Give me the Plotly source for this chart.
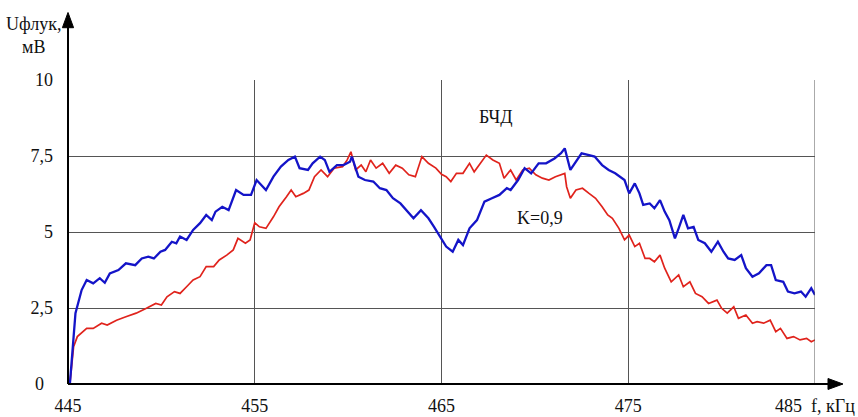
import plotly.graph_objects as go

# ---- data ----
blue_f = [445.1, 445.4, 445.73, 446.0, 446.35, 446.7, 446.97, 447.24, 447.7, 448.1, 448.6, 448.95,
          449.3, 449.6, 449.95, 450.2, 450.56, 450.8, 451.0, 451.35, 451.7, 452.07, 452.4, 452.7,
          452.9, 453.26, 453.6, 454.0, 454.4, 454.8, 455.1, 455.6, 456.0, 456.4, 456.8, 457.15,
          457.4, 457.85, 458.1, 458.5, 458.75, 459.0, 459.4, 459.75, 460.1, 460.2, 460.55, 460.9,
          461.35, 461.7, 462.05, 462.4, 462.8, 463.1, 463.5, 463.9, 464.3, 464.6, 464.9, 465.25,
          465.6, 465.9, 466.15, 466.5, 466.9, 467.3, 467.7, 468.1, 468.5, 468.7, 469.1, 469.45,
          469.8, 470.2, 470.6, 471.05, 471.4, 471.6, 471.9, 472.25, 472.5, 472.9, 473.2, 473.6,
          473.95, 474.3, 474.65, 474.8, 475.05, 475.35, 475.6, 475.8, 476.15, 476.4, 476.7, 476.95,
          477.2, 477.5, 477.7, 477.95, 478.2, 478.5, 478.75, 479.1, 479.45, 479.8, 480.1, 480.35,
          480.7, 481.05, 481.3, 481.65, 482.0, 482.4, 482.65, 482.9, 483.3, 483.55, 483.9, 484.25,
          484.5, 484.8, 485.0]
blue_v = [0.0, 2.33, 3.09, 3.42, 3.31, 3.48, 3.33, 3.64, 3.75, 3.97, 3.91, 4.13,
          4.19, 4.13, 4.35, 4.41, 4.68, 4.63, 4.85, 4.74, 5.07, 5.29, 5.56, 5.39,
          5.67, 5.83, 5.72, 6.38, 6.22, 6.22, 6.71, 6.38, 6.82, 7.15, 7.37, 7.48,
          7.1, 7.04, 7.26, 7.48, 7.37, 6.98, 7.2, 7.2, 7.31, 7.48, 6.82, 6.71,
          6.66, 6.44, 6.38, 6.11, 5.94, 5.72, 5.45, 5.72, 5.45, 5.17, 4.85, 4.52,
          4.35, 4.74, 4.57, 5.12, 5.39, 6.0, 6.11, 6.22, 6.44, 6.38, 6.71, 7.1,
          6.93, 7.26, 7.26, 7.42, 7.59, 7.75, 7.04, 7.37, 7.59, 7.53, 7.48, 7.2,
          7.04, 6.93, 6.77, 6.71, 6.27, 6.6, 6.27, 5.89, 5.94, 5.78, 6.05, 5.67,
          5.39, 4.79, 5.12, 5.56, 5.12, 5.17, 4.74, 4.63, 4.35, 4.68, 4.35, 4.13,
          4.08, 4.24, 3.81, 3.53, 3.64, 3.91, 3.91, 3.42, 3.36, 3.04, 2.98, 3.04,
          2.87, 3.15, 2.93]

red_f = [445.1, 445.3, 445.5, 446.0, 446.35, 446.8, 447.1, 447.6, 448.1, 448.65, 449.2, 449.7,
         450.0, 450.3, 450.7, 451.0, 451.35, 451.7, 452.07, 452.4, 452.8, 453.1, 453.5, 453.85,
         454.1, 454.5, 454.75, 455.0, 455.25, 455.6, 456.0, 456.3, 456.7, 456.95, 457.2, 457.6,
         457.9, 458.2, 458.55, 458.9, 459.25, 459.7, 459.95, 460.15, 460.4, 460.7, 460.95, 461.2,
         461.5, 461.85, 462.2, 462.55, 462.9, 463.25, 463.6, 463.95, 464.3, 464.7, 465.0, 465.25,
         465.5, 465.8, 466.15, 466.5, 466.75, 467.0, 467.4, 467.75, 468.1, 468.35, 468.7, 469.0,
         469.35, 469.7, 470.05, 470.4, 470.75, 471.1, 471.45, 471.6, 471.7, 471.9, 472.2, 472.55,
         472.9, 473.25, 473.6, 473.9, 474.15, 474.5, 474.8, 475.05, 475.35, 475.6, 475.9, 476.15,
         476.4, 476.7, 476.95, 477.3, 477.7, 477.95, 478.3, 478.6, 478.95, 479.3, 479.75, 480.0,
         480.3, 480.65, 480.9, 481.3, 481.65, 481.9, 482.25, 482.6, 482.9, 483.15, 483.5, 483.85,
         484.2, 484.55, 484.8, 485.0]
red_v = [0.0, 1.23, 1.56, 1.83, 1.83, 2.0, 1.94, 2.1, 2.21, 2.33, 2.49, 2.65,
         2.6, 2.87, 3.04, 2.98, 3.2, 3.42, 3.53, 3.86, 3.86, 4.08, 4.24, 4.41,
         4.79, 4.63, 4.74, 5.3, 5.17, 5.12, 5.5, 5.83, 6.16, 6.38, 6.16, 6.27,
         6.38, 6.82, 7.04, 6.82, 7.1, 7.15, 7.37, 7.64, 7.04, 7.2, 6.98, 7.37,
         7.1, 7.26, 6.93, 7.2, 7.1, 6.88, 6.82, 7.48, 7.26, 7.1, 6.9, 6.82,
         6.66, 6.93, 6.93, 7.26, 6.98, 7.2, 7.53, 7.37, 7.26, 6.77, 7.04, 6.71,
         7.04, 7.1, 6.88, 6.77, 6.71, 6.82, 6.88, 6.93, 6.49, 6.11, 6.38, 6.44,
         6.27, 6.11, 5.83, 5.56, 5.45, 5.12, 4.74, 4.9, 4.52, 4.63, 4.13, 4.13,
         4.02, 4.24, 3.81, 3.36, 3.59, 3.2, 3.36, 2.98, 2.87, 2.65, 2.76, 2.49,
         2.33, 2.54, 2.16, 2.27, 2.0, 2.05, 2.0, 2.1, 1.72, 1.83, 1.5, 1.56,
         1.45, 1.5, 1.39, 1.45]

x_ticks = [445, 455, 465, 475, 485]
x_ticktext = ["445", "455", "465", "475", "485\u00a0\u00a0f, кГц"]
y_ticks = [0, 2.5, 5, 7.5, 10]
y_ticktext = ["0\u00a0\u00a0", "2,5", "5", "7,5", "10"]

FONT = '"Liberation Serif", "DejaVu Serif", serif'

fig = go.Figure()
fig.add_trace(go.Scatter(x=red_f, y=red_v, mode="lines",
                         line=dict(color="#e0231c", width=1.7), showlegend=False))
fig.add_trace(go.Scatter(x=blue_f, y=blue_v, mode="lines",
                         line=dict(color="#1414c8", width=2.3), showlegend=False))

fig.update_layout(
    width=858, height=417,
    margin=dict(l=68, r=43, t=80, b=33, autoexpand=False),
    paper_bgcolor="white", plot_bgcolor="white",
    font=dict(family=FONT, size=18, color="#111"),
    xaxis=dict(range=[445, 485], tickvals=x_ticks, ticktext=x_ticktext,
               showgrid=True, gridcolor="#555", gridwidth=1, zeroline=False,
               showline=False, ticks="", ticklabelstandoff=9, automargin=False,
               fixedrange=True, tickfont=dict(family=FONT, size=18)),
    yaxis=dict(range=[0, 10], tickvals=y_ticks, ticktext=y_ticktext,
               showgrid=True, gridcolor="#555", gridwidth=1, zeroline=False,
               showline=False, ticks="", ticklabelstandoff=14, automargin=False,
               fixedrange=True, tickfont=dict(family=FONT, size=18)),
)

# vertical gridline at the right edge
fig.add_shape(type="line", xref="x", yref="paper", x0=485, x1=485, y0=0, y1=1,
              line=dict(color="#555", width=1))

# axes with arrows
fig.add_shape(type="line", xref="paper", yref="paper", x0=0, x1=0, y0=0, y1=1.18,
              line=dict(color="black", width=2))
fig.add_shape(type="path", xref="paper", yref="paper",
              path="M -0.0075 1.172 L 0.0075 1.172 L 0 1.222 Z",
              fillcolor="black", line=dict(color="black", width=1))
fig.add_shape(type="line", xref="paper", yref="paper", x0=0, x1=1.02, y0=0, y1=0,
              line=dict(color="black", width=2))
fig.add_shape(type="path", xref="paper", yref="paper",
              path="M 1.0174 -0.018 L 1.0174 0.018 L 1.0375 0 Z",
              fillcolor="black", line=dict(color="black", width=1))

# texts
fig.add_annotation(xref="paper", yref="paper", x=-0.046, y=1.148,
                   text="Uфлук,<br>мВ", showarrow=False, xanchor="center", yanchor="middle",
                   font=dict(family=FONT, size=18))
fig.add_annotation(xref="x", yref="y", x=467.87, y=8.78, text="БЧД", showarrow=False,
                   font=dict(family=FONT, size=18))
fig.add_annotation(xref="x", yref="y", x=470.27, y=5.46, text="K=0,9", showarrow=False,
                   font=dict(family=FONT, size=18))

fig.write_html("out.html")
